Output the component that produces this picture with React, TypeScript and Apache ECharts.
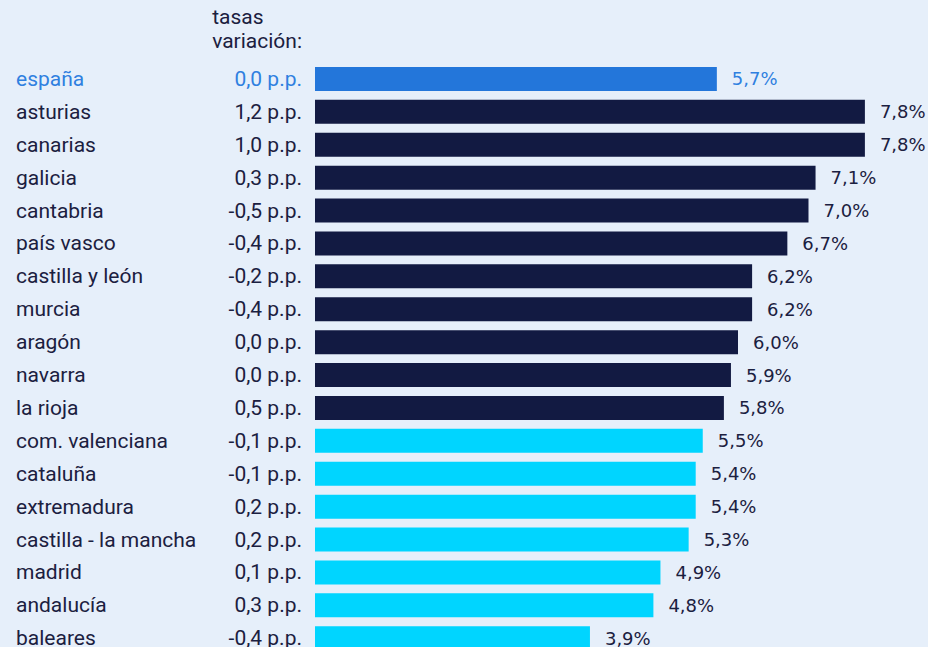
import React, { useEffect, useRef } from "react";
import * as echarts from "echarts";

const regions = [
  "españa", "asturias", "canarias", "galicia", "cantabria", "país vasco",
  "castilla y león", "murcia", "aragón", "navarra", "la rioja",
  "com. valenciana", "cataluña", "extremadura", "castilla - la mancha",
  "madrid", "andalucía", "baleares",
];
const rates = [5.7, 7.8, 7.8, 7.1, 7.0, 6.7, 6.2, 6.2, 6.0, 5.9, 5.8, 5.5, 5.4, 5.4, 5.3, 4.9, 4.8, 3.9];
const variation = ["0,0", "1,2", "1,0", "0,3", "-0,5", "-0,4", "-0,2", "-0,4", "0,0", "0,0", "0,5", "-0,1", "-0,1", "0,2", "0,2", "0,1", "0,3", "-0,4"];
const groups = ["spain", "high", "high", "high", "high", "high", "high", "high", "high", "high", "high", "low", "low", "low", "low", "low", "low", "low"];

const BAR_COLORS: Record<string, string> = { spain: "#2376da", high: "#121a42", low: "#00d5ff" };
const TEXT_DARK = "#1b2040";
const TEXT_BLUE = "#2f80e0";
const FONT = "Roboto";
const FS = 21;
const VFONT = "DejaVu Sans";
const VFS = 18;
const H = 660;

export default function App() {
  const ref = useRef<HTMLDivElement>(null);
  useEffect(() => {
    if (!ref.current) return;
    const chart = echarts.init(ref.current, undefined, { renderer: "svg" });
    const labelColor = (_v: any, i: number) => (i === 0 ? TEXT_BLUE : TEXT_DARK);
    chart.setOption({
      animation: false,
      backgroundColor: "#e6effa",
      textStyle: { fontFamily: FONT },
      grid: { left: 315, right: 0, top: 62.5, bottom: H - 62.5 - 18 * 32.9, containLabel: false },
      xAxis: { type: "value", min: 0, max: 8.695, show: false },
      yAxis: [
        {
          type: "category", data: regions, inverse: true,
          axisLine: { show: false }, axisTick: { show: false },
          axisLabel: { align: "left", margin: 299, fontSize: FS, fontFamily: FONT, color: labelColor },
        },
        {
          type: "category", data: variation.map((v) => v + " p.p."), inverse: true, position: "left",
          axisLine: { show: false }, axisTick: { show: false },
          axisLabel: { align: "right", margin: 13, fontSize: FS, fontFamily: FONT, color: labelColor },
        },
      ],
      graphic: [
        {
          type: "text", right: 928 - 302, top: 5,
          style: { text: "tasas\nvariación:", align: "right", fontSize: FS, lineHeight: 24, fill: TEXT_DARK, fontFamily: FONT },
        },
      ],
      series: [
        {
          type: "bar", yAxisIndex: 0, barWidth: 24,
          data: rates.map((v, i) => ({
            value: v,
            itemStyle: { color: BAR_COLORS[groups[i]] },
            label: { color: i === 0 ? TEXT_BLUE : TEXT_DARK },
          })),
          label: {
            show: true, position: "right", distance: 15, fontSize: VFS, fontFamily: VFONT,
            formatter: (p: any) => p.value.toFixed(1).replace(".", ",") + "%",
          },
        },
      ],
    });
    return () => chart.dispose();
  }, []);
  return <div ref={ref} style={{ position: "fixed", left: 0, top: 0, width: 928, height: H }} />;
}
